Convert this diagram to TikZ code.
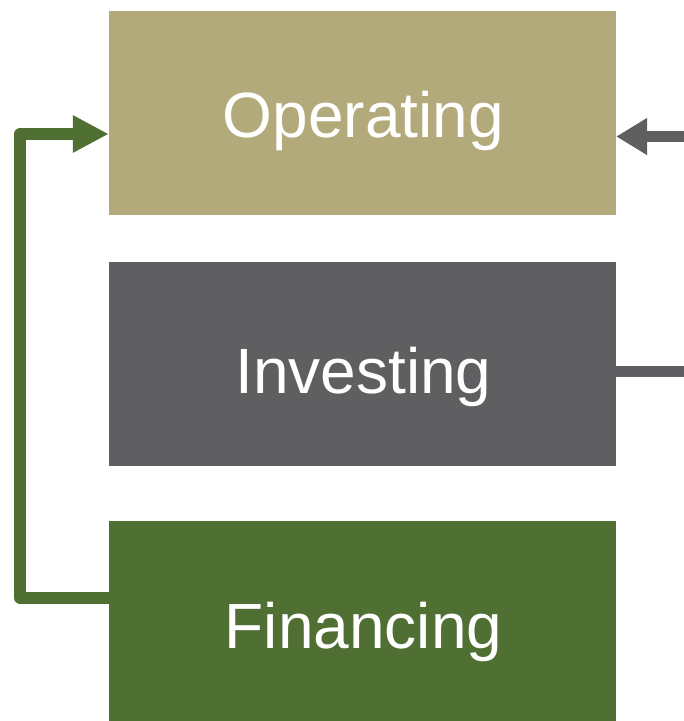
\documentclass[tikz,border=0pt]{standalone}
\usepackage{fontspec}
\setmainfont{Liberation Sans}
\usetikzlibrary{arrows.meta}
\definecolor{tanc}{HTML}{B3AA7C}
\definecolor{grayc}{HTML}{5F5F61}
\definecolor{greenc}{HTML}{4F6F33}
\begin{document}
\begin{tikzpicture}[x=1pt,y=-1pt,
  box/.style={draw=none,minimum width=507pt,minimum height=204pt,inner sep=0pt},
  txt/.style={anchor=base,inner sep=0pt,text=white,font=\fontsize{64}{77}\selectfont},
  conn/.style={line width=11.5pt},
  tip/.style={-{Triangle[length=36pt,width=35pt]}},
  tipg/.style={-{Triangle[length=31pt,width=35pt]}}]
\useasboundingbox (0,0) rectangle (684,721);
\clip (0,0) rectangle (684,721);
\fill[white] (0,0) rectangle (684,721);
\node[box,fill=tanc] (op) at (362.5,113) {};
\node[box,fill=grayc] (inv) at (362.5,364) {};
\node[box,fill=greenc] (fin) at (362.5,623) {};
\node[txt] (optext) at (363.5,137) {Operating};
\node[txt] (invtext) at (363.5,393) {Investing};
\node[txt] (fintext) at (363.5,648) {Financing};
\coordinate (opin) at (684,136.5);
\coordinate (invout) at (684,371.5);
\draw[conn,tipg,draw=grayc] (opin) -- (op.east |- opin);
\draw[conn,draw=grayc] (inv.east |- invout) -- (invout);
\draw[conn,tip,draw=greenc,line join=round]
  (fin.west |- 0,598) -- (20,598) -- (20,134) -- (op.west |- 0,134);
\end{tikzpicture}
\end{document}
